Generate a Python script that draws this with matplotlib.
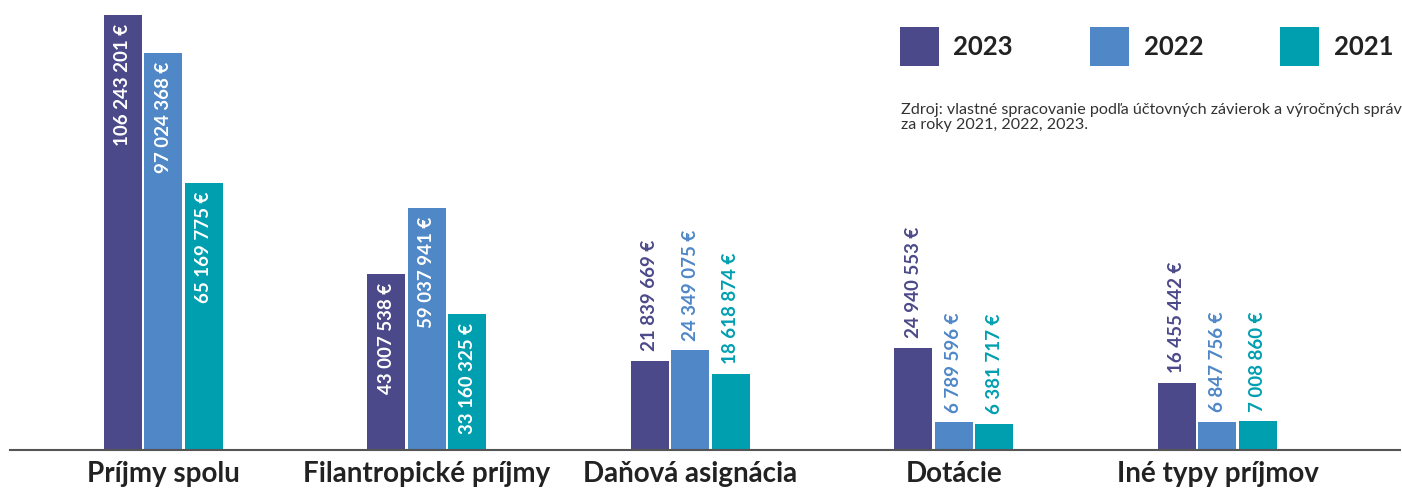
import matplotlib
matplotlib.use("Agg")
import matplotlib.pyplot as plt
import numpy as np

categories = ["Príjmy spolu", "Filantropické príjmy", "Daňová asignácia", "Dotácie", "Iné typy príjmov"]
years = ["2023", "2022", "2021"]
values_2023 = [106243201, 43007538, 21839669, 24940553, 16455442]
values_2022 = [97024368, 59037941, 24349075, 6789596, 6847756]
values_2021 = [65169775, 33160325, 18618874, 6381717, 7008860]
series = [values_2023, values_2022, values_2021]
colors = ["#4b4989", "#4f87c7", "#009fb0"]
source = ("Zdroj: vlastné spracovanie podľa účtovných závierok a výročných správ\n"
          "za roky 2021, 2022, 2023.")

def fmt(v):
    return f"{v:,}".replace(",", " ") + " €"

W, H = 1402, 494
fig = plt.figure(figsize=(W / 100, H / 100), dpi=100)
ax = fig.add_axes([10 / W, (H - 450) / H, (1400 - 10) / W, 450 / H])

font = "Lato"
x = np.arange(len(categories))
bw = 0.1442
step = 0.1537
for k, (vals, col, yr) in enumerate(zip(series, colors, years)):
    pos = x + (k - 1) * step
    bars = ax.bar(pos, vals, width=bw, color=col, label=yr, zorder=2)
    for b, v in zip(bars, vals):
        cx = b.get_x() + b.get_width() / 2
        if v > 30e6:
            ax.annotate(fmt(v), (cx, v), xytext=(0, -6), textcoords="offset points",
                        rotation=90, ha="center", va="top", color="white",
                        fontsize=13.5, fontweight="bold", family=font)
        else:
            ax.annotate(fmt(v), (cx, v), xytext=(0, 7), textcoords="offset points",
                        rotation=90, ha="center", va="bottom", color=col,
                        fontsize=13.5, fontweight="bold", family=font)

ax.set_xlim(-0.5825, 4.6926)
ax.set_ylim(0, 110e6)
for s in ["top", "right", "left"]:
    ax.spines[s].set_visible(False)
ax.spines["bottom"].set_color("#555555")
ax.spines["bottom"].set_linewidth(1.5)
ax.set_yticks([])
ax.set_xticks(x)
ax.set_xticklabels(categories, fontsize=20, fontweight="bold", family=font, color="#222222")
ax.tick_params(axis="x", length=0, pad=8)

leg = fig.legend(loc="upper left", bbox_to_anchor=(900 / W, 1 - 27 / H), ncol=3, frameon=False,
                 prop={"family": font, "weight": "bold", "size": 18.5},
                 handlelength=1.52, handleheight=1.98, handletextpad=0.56,
                 columnspacing=3.0, borderpad=0, borderaxespad=0)
for t in leg.get_texts():
    t.set_color("#222222")

fig.text(901 / W, 1 - 103 / H, source, ha="left", va="top", fontsize=11.6,
         family=font, color="#333333", linespacing=1.05)

fig.savefig("out.png", dpi=100)
